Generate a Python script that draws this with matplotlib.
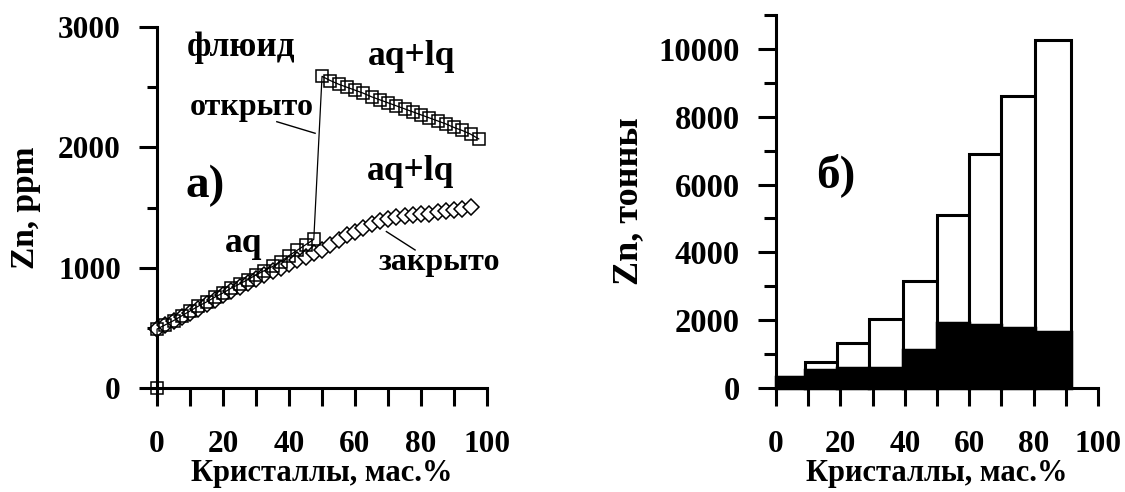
import numpy as np
import matplotlib.pyplot as plt
from matplotlib.ticker import MultipleLocator

plt.rcParams['font.family'] = ['Liberation Serif', 'DejaVu Serif']
plt.rcParams['font.weight'] = 'bold'

# а) Zn in fluid vs crystallinity
# open system (squares): aq branch, then aq+lq branch after the jump
open_x = [0, 0, 2.5, 5, 7.5, 10, 12.5, 15, 17.5, 20, 22.5, 25, 27.5, 30, 32.5, 35, 37.5, 40, 42.5, 45, 47.5,
          50, 52.5, 55, 57.5, 60, 62.5, 65, 67.5, 70, 72.5, 75, 77.5, 80, 82.5, 85, 87.5, 90, 92.5, 95, 97.5]
open_zn = [0, 490, 525, 560, 600, 640, 680, 715, 755, 790, 830, 865, 900, 940, 975, 1010, 1050, 1100, 1145, 1190, 1235,
           2590, 2555, 2525, 2500, 2475, 2450, 2420, 2395, 2370, 2345, 2320, 2295, 2270, 2245, 2220, 2195, 2165, 2140, 2110, 2070]

# closed system (diamonds)
closed_x = [0, 2.5, 5, 7.5, 10, 12.5, 15, 17.5, 20, 22.5, 25, 27.5, 30, 32.5, 35, 37.5, 40, 42.5, 45, 47.5,
            50, 52.5, 55, 57.5, 60, 62.5, 65, 67.5, 70, 72.5, 75, 77.5, 80, 82.5, 85, 87.5, 90, 92.5, 95]
closed_zn = [490, 520, 555, 590, 625, 660, 700, 735, 770, 805, 840, 875, 905, 940, 975, 1000, 1030, 1060, 1090, 1120,
             1150, 1190, 1230, 1270, 1300, 1330, 1360, 1385, 1405, 1420, 1430, 1440, 1445, 1450, 1460, 1470, 1480, 1490, 1505]

# б) Zn mass in tonnes per crystallinity interval
bin_lo = [0, 9, 19, 29, 39.5, 50, 60, 70, 80.5]
bin_hi = [9, 19, 29, 39.5, 50, 60, 70, 80.5, 91.5]
total_t = [330, 770, 1340, 2040, 3160, 5090, 6900, 8620, 10270]
fluid_t = [330, 540, 580, 580, 1120, 1930, 1860, 1760, 1660]

FS = 22.5
LW = 2.2

fig = plt.figure(figsize=(11.25, 4.92), dpi=100)
ax1 = fig.add_axes([0.1396, 0.2114, 0.2933, 0.7337])
ax2 = fig.add_axes([0.6898, 0.2114, 0.2862, 0.758])


def style_axes(ax):
    for s in ['top', 'right']:
        ax.spines[s].set_visible(False)
    for s in ['left', 'bottom']:
        ax.spines[s].set_linewidth(LW)
    ax.tick_params(which='both', direction='out', width=LW, labelsize=FS)
    ax.tick_params(axis='x', which='both', length=13, pad=17)
    ax.tick_params(axis='y', which='major', length=13, pad=13)
    ax.set_xlim(0, 100)
    ax.xaxis.set_major_locator(MultipleLocator(20))
    ax.xaxis.set_minor_locator(MultipleLocator(10))
    ax.set_xlabel('Кристаллы, мас.%', fontsize=22, fontweight='bold', labelpad=0)
    for lab in ax.get_xticklabels() + ax.get_yticklabels():
        lab.set_fontweight('bold')


# --- panel а)
style_axes(ax1)
ax1.set_ylim(0, 3000)
ax1.yaxis.set_major_locator(MultipleLocator(1000))
ax1.yaxis.set_minor_locator(MultipleLocator(500))
ax1.tick_params(axis='y', which='minor', length=7)
ax1.set_ylabel('Zn, ppm', fontsize=24, fontweight='bold', labelpad=12)

ax1.plot(closed_x, closed_zn, color='black', lw=0.8, marker='D', ms=8.5,
         mfc='white', mec='black', mew=1.1, clip_on=False, zorder=3)
ax1.plot(open_x, open_zn, color='black', lw=0.9, marker='s', ms=9,
         mfc='none', mec='black', mew=1.1, clip_on=False, zorder=4)

tkw = dict(fontsize=25.5, fontweight='bold')
ax1.text(9, 2755, 'флюид', **tkw)
ax1.text(64, 2685, 'aq+lq', **tkw)
ax1.text(63.5, 1729, 'aq+lq', **tkw)
ax1.text(20.6, 1133, 'aq', **tkw)
ax1.text(10, 2270, 'открыто', fontsize=23, fontweight='bold')
ax1.text(67, 981, 'закрыто', fontsize=23, fontweight='bold')
ax1.text(8.5, 1590, 'а)', fontsize=34, fontweight='bold')
ax1.plot([36.3, 47.9], [2213, 2117], color='black', lw=1.0)
ax1.plot([69.5, 78.2], [1300, 1147], color='black', lw=1.0)

# --- panel б)
style_axes(ax2)
ax2.set_ylim(0, 11000)
ax2.yaxis.set_major_locator(MultipleLocator(2000))
ax2.yaxis.set_minor_locator(MultipleLocator(1000))
ax2.tick_params(axis='y', which='minor', length=8.5)
ax2.tick_params(axis='y', labelsize=23.5)
ax2.set_ylabel('Zn, тонны', fontsize=26, fontweight='bold', labelpad=10)

lo = np.array(bin_lo)
w = np.array(bin_hi) - lo
ax2.bar(lo, total_t, width=w, align='edge', color='white', edgecolor='black', lw=2.2, zorder=2)
ax2.bar(lo, fluid_t, width=w, align='edge', color='black', edgecolor='black', lw=2.5,
        zorder=3, clip_on=False)
ax2.text(12.6, 5922, 'б)', fontsize=34, fontweight='bold')

fig.savefig('out.png', dpi=100)
